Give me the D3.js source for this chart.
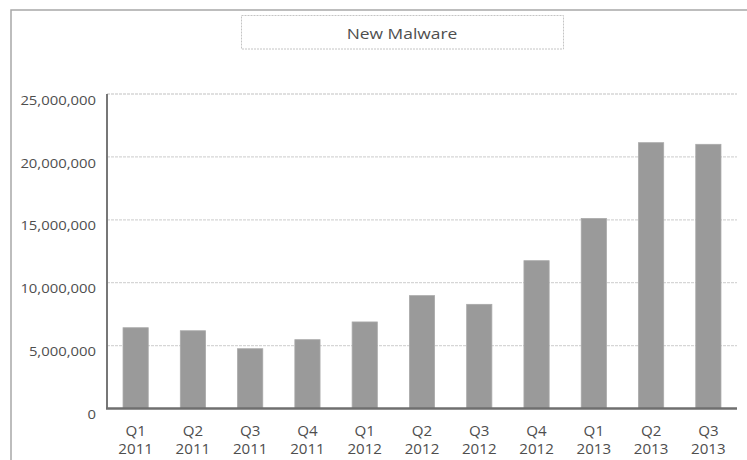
<!DOCTYPE html>
<html>
<head>
<meta charset="utf-8">
<script src="https://cdn.jsdelivr.net/npm/d3@7"></script>
<style>
  html, body { margin: 0; padding: 0; background: #fff; }
  svg { display: block; }
  text { font-family: "Open Sans", "Noto Sans", sans-serif; fill: #4e4e4e; }
</style>
</head>
<body>
<svg id="chart" width="747" height="460"></svg>
<script>
// Quarterly counts of new malware samples
const quarters = ["Q1", "Q2", "Q3", "Q4", "Q1", "Q2", "Q3", "Q4", "Q1", "Q2", "Q3"];
const years = ["2011", "2011", "2011", "2011", "2012", "2012", "2012", "2012", "2013", "2013", "2013"];
const newMalware = [6420000, 6180000, 4750000, 5470000, 6880000, 8970000, 8280000, 11750000, 15100000, 21130000, 21000000];
const yTicks = [0, 5000000, 10000000, 15000000, 20000000, 25000000];
const chartTitle = "New Malware";

const svg = d3.select("#chart");
const W = 747, H = 460;
const plot = { left: 107, right: 737, top: 94, bottom: 408.5 };

// Widen glyphs slightly, giving the labels their broad look
function stretch(sel, k) {
  sel.each(function () {
    const len = this.getComputedTextLength();
    d3.select(this).attr("textLength", len * k).attr("lengthAdjust", "spacingAndGlyphs");
  });
}

// Outer frame
svg.append("path")
  .attr("d", `M11,${H + 2} L11,10 L${W + 2},10`)
  .attr("fill", "none")
  .attr("stroke", "#a8a8a8")
  .attr("stroke-width", 1.5);

// Title box
svg.append("rect")
  .attr("x", 241.5).attr("y", 15.5)
  .attr("width", 322).attr("height", 33.5)
  .attr("fill", "none")
  .attr("stroke", "#c4c4c4")
  .attr("stroke-dasharray", "2,1");

svg.append("text")
  .attr("x", 402).attr("y", 39)
  .attr("text-anchor", "middle")
  .style("font-size", "14.5px")
  .text(chartTitle)
  .call(stretch, 1.2);

const keys = quarters.map((q, i) => q + " " + years[i]);

const x = d3.scaleBand()
  .domain(keys)
  .range([plot.left, plot.right])
  .paddingInner(0.56)
  .paddingOuter(0.28);

const y = d3.scaleLinear()
  .domain([0, 25000000])
  .range([plot.bottom, plot.top]);

// Horizontal gridlines
svg.append("g")
  .selectAll("line")
  .data(yTicks.filter(d => d > 0))
  .join("line")
  .attr("x1", plot.left).attr("x2", plot.right)
  .attr("y1", d => y(d)).attr("y2", d => y(d))
  .attr("stroke", "#d6d6d6")
  .attr("stroke-width", 1.3)
  .attr("stroke-dasharray", "3,1");

// Y axis labels
const yAxis = d3.axisLeft(y)
  .tickValues(yTicks)
  .tickFormat(d3.format(","))
  .tickSize(0)
  .tickPadding(11);

const gy = svg.append("g")
  .attr("transform", `translate(${plot.left},0)`)
  .call(yAxis);
gy.select(".domain").remove();
gy.selectAll("text")
  .attr("dy", "0.75em")
  .style("font-size", "13.5px")
  .style("fill", "#4e4e4e")
  .style("font-family", "\"Open Sans\", sans-serif")
  .call(stretch, 1.1);

// Bars
svg.append("g")
  .selectAll("rect")
  .data(newMalware)
  .join("rect")
  .attr("x", (d, i) => x(keys[i]))
  .attr("width", x.bandwidth())
  .attr("y", d => y(d))
  .attr("height", d => y(0) - y(d))
  .attr("fill", "#9a9a9a")
  .attr("stroke", "#a9a9a9")
  .attr("stroke-width", 0.8);

// Axis lines
svg.append("line")
  .attr("x1", plot.left).attr("x2", plot.left)
  .attr("y1", plot.top).attr("y2", plot.bottom)
  .attr("stroke", "#777").attr("stroke-width", 2);
svg.append("line")
  .attr("x1", plot.left - 1).attr("x2", plot.right)
  .attr("y1", plot.bottom).attr("y2", plot.bottom)
  .attr("stroke", "#6f6f6f").attr("stroke-width", 2.5);

// Category labels: quarter over year
const xAxis = d3.axisBottom(x).tickSize(0).tickFormat(() => "");
const gx = svg.append("g")
  .attr("transform", `translate(0,${plot.bottom})`)
  .call(xAxis);
gx.select(".domain").remove();
gx.selectAll(".tick").each(function (d, i) {
  const t = d3.select(this).select("text")
    .attr("y", 0).attr("dy", null)
    .style("font-size", "14px")
    .style("fill", "#4e4e4e")
    .style("font-family", "\"Open Sans\", sans-serif");
  t.append("tspan").attr("x", 0).attr("y", 27.5).text(quarters[i]);
  t.append("tspan").attr("x", 0).attr("y", 45).text(years[i]);
});
gx.selectAll(".tick tspan").call(stretch, 1.08);
</script>
</body>
</html>
